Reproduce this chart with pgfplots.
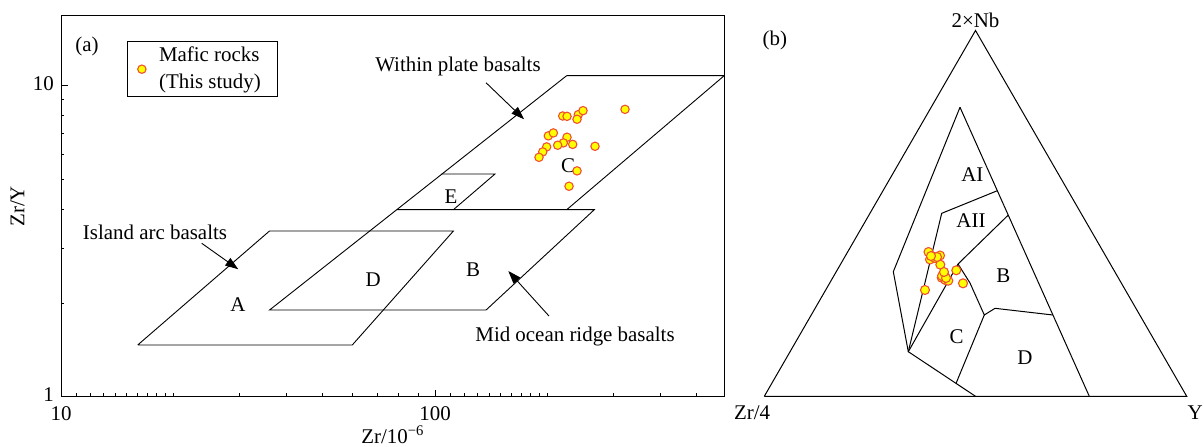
\documentclass[border=0pt]{standalone}
\usepackage{fontspec}
\setmainfont{Liberation Serif}
\usepackage{pgfplots}
\pgfplotsset{compat=1.18}
\usetikzlibrary{arrows.meta}
\definecolor{mkfill}{RGB}{255,255,0}
\definecolor{mkedge}{RGB}{240,80,50}
\begin{document}
\fontsize{21}{25}\selectfont
\begin{tikzpicture}[font=\fontsize{21}{25}\selectfont]
\begin{axis}[
  at={(61bp,50.3bp)}, anchor=south west,
  scale only axis, width=663.3bp, height=380.7bp,
  xmode=log, ymode=log,
  xmin=10, xmax=593.6, ymin=1, ymax=16.69,
  xtick={10,100}, xticklabels={10,100},
  ytick={1,10}, yticklabels={1,10},
  minor xtick={11,12,13,14,15,16,17,18,19,20,30,40,50,60,70,80,90,110,120,130,140,150,160,170,180,190,200,300,400,500},
  minor ytick={2,3,4,5,6,7,8,9},
  tick align=inside, tick pos=left,
  major tick length=7bp, minor tick length=3.5bp,
  axis line style={line width=1bp},
  every tick/.style={black, line width=0.8bp},
  /pgf/number format/assume math mode=true,
  ticklabel style={font=\fontsize{21}{25}\selectfont},
  xticklabel style={yshift=-3bp},
  yticklabel style={yshift=2bp},
  xlabel={Zr/10\textsuperscript{−6}}, ylabel={Zr/Y},
  xlabel style={at={(axis description cs:0.5,-0.1)}, anchor=center},
  ylabel style={at={(axis description cs:-0.0656,0.5)}, anchor=center},
  legend style={at={(0.099,0.9335)}, anchor=north west, draw=black, line width=1bp,
    inner xsep=10.5bp, inner ysep=3bp, fill=white, column sep=7bp,
    nodes={align=left, inner xsep=6bp, inner ysep=2bp, font=\fontsize{21}{27}\selectfont}},
  legend cell align=left,
  legend image code/.code={\draw[#1] plot coordinates {(0.3cm,0bp)};},
]
% fields
\addplot[black, line width=0.9bp, forget plot] coordinates {(16.04,1.466) (60.1,1.466) (112,3.405) (36.1,3.405) (16.04,1.466)};
\addplot[black, line width=0.9bp, forget plot] coordinates {(225,10.74) (36.1,1.898) (136.9,1.898) (266.6,3.986) (78.9,3.986)};
\addplot[black, line width=0.9bp, forget plot] coordinates {(225,10.74) (593.6,10.74) (225,3.986)};
\addplot[black, line width=0.9bp, forget plot] coordinates {(104,5.19) (144.7,5.19) (112,3.986)};
% data
\addplot[only marks, mark=*, mark size=4.2bp, mark options={fill=mkfill, draw=mkedge, line width=1.1bp}] coordinates {
(219.5,7.97) (225.4,7.95) (241.6,8.05) (248.7,8.29) (239.7,7.78) (322.1,8.37)
(200.9,6.88) (207.2,7.03) (225.4,6.81) (220.3,6.53) (212.8,6.42) (233.4,6.46)
(198.9,6.34) (194.1,6.11) (189.7,5.87) (267.8,6.37) (239.7,5.31) (228.2,4.74)
};
\addlegendentry{Mafic rocks\\(This study)}
% labels
\node at (axis cs:11.73,13.37) {(a)};
\node at (axis cs:115.2,11.45) {Within plate basalts};
\node at (axis cs:17.84,3.38) {Island arc basalts};
\node at (axis cs:236.8,1.566) {Mid ocean ridge basalts};
\node at (axis cs:29.73,1.97) {A};
\node at (axis cs:68.3,2.37) {D};
\node at (axis cs:126.4,2.552) {B};
\node at (axis cs:110.4,4.378) {E};
\node at (axis cs:226.8,5.507) {C};
\draw[line width=0.9bp, -{Triangle[length=13bp,width=9bp]}] (axis cs:136.9,10.19) -- (axis cs:173,7.78);
\draw[line width=0.9bp, -{Triangle[length=13bp,width=9bp]}] (axis cs:23.78,3.109) -- (axis cs:29.79,2.566);
\draw[line width=0.9bp, -{Triangle[length=13bp,width=9bp]}] (axis cs:201.7,1.816) -- (axis cs:157,2.533);
\end{axis}

\begin{axis}[
  at={(764.3bp,50.7bp)}, anchor=south west,
  scale only axis, width=422.4bp, height=365.8bp,
  xmin=0, xmax=100, ymin=0, ymax=86.6,
  hide axis, clip=false,
]
\addplot[black, line width=1bp, line join=miter] coordinates {(0,0) (100,0) (50,86.6) (0,0)};
\addplot[black, line width=1bp] coordinates {(46.33,68.42) (76.94,0)};
\addplot[black, line width=1bp] coordinates {(46.33,68.42) (30.54,29.50) (34.09,10.56) (50,0)};
\addplot[black, line width=1bp] coordinates {(55.16,48.67) (42.0,43.32) (34.09,10.56)};
\addplot[black, line width=1bp] coordinates {(57.77,42.92) (45.86,31.32) (34.09,10.56)};
\addplot[black, line width=1bp] coordinates {(45.86,31.32) (48.70,26.82) (52.08,19.25) (54.62,20.83) (68.3,19.25)};
\addplot[black, line width=1bp] coordinates {(52.08,19.25) (45.4,3.08)};
\addplot[only marks, mark=*, mark size=4.5bp, mark options={fill=mkfill, draw=mkedge, line width=1.1bp}] coordinates {
(38.87,34.16) (39.94,33.10) (41.60,33.33) (39.23,32.39) (40.41,32.74) (41.67,31.16)
(42.61,28.79) (42.00,28.08) (42.85,27.53) (43.56,27.37) (45.45,29.83) (47.04,26.75)
(38.04,25.17) (42.07,28.48) (43.02,28.01) (40.89,32.98) (39.46,33.21) (42.54,29.43)
};
\node at (axis cs:49.24,52.39) {AI};
\node at (axis cs:48.93,41.57) {AII};
\node at (axis cs:56.58,28.48) {B};
\node at (axis cs:45.55,14.11) {C};
\node at (axis cs:61.72,9.23) {D};
\node at (axis cs:50,89.1) {2×Nb};
\node at (axis cs:-2.9,-3.95) {Zr/4};
\node at (axis cs:102,-3.95) {Y};
\node at (axis cs:2.5,84.2) {(b)};
\end{axis}
\pgfresetboundingbox
\useasboundingbox (0bp,0bp) rectangle (1204bp,447bp);
\end{tikzpicture}
\end{document}
